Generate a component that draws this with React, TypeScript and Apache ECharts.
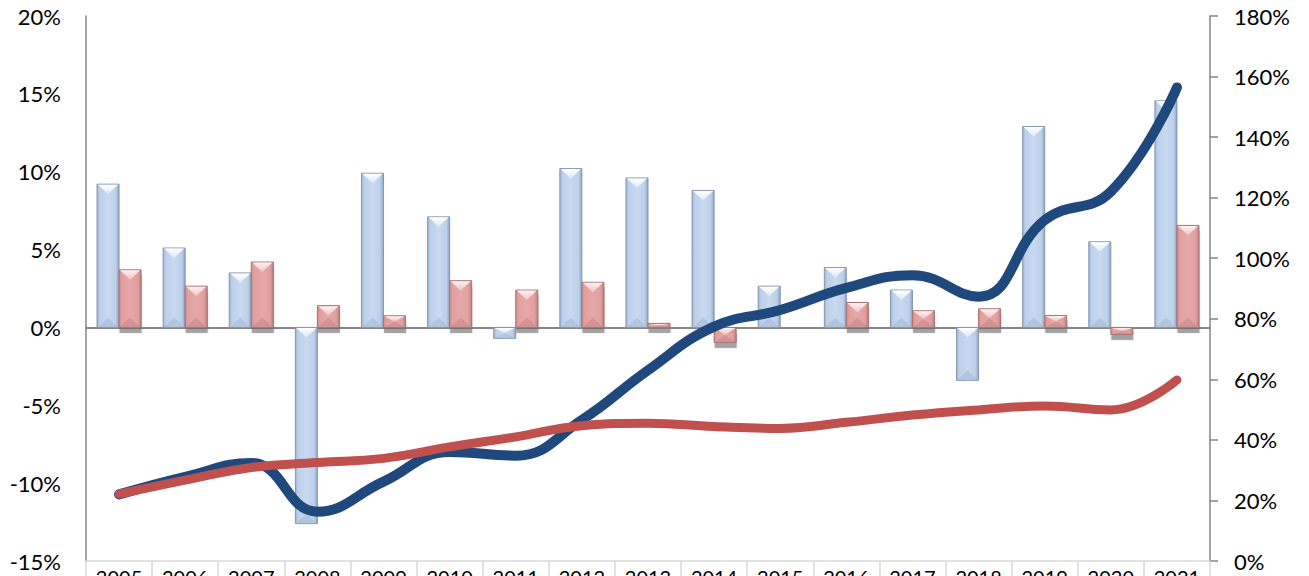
import React, { useEffect, useRef } from "react";
import * as echarts from "echarts";

const years = ["2005","2006","2007","2008","2009","2010","2011","2012","2013","2014","2015","2016","2017","2018","2019","2020","2021"];
const blueBars = [9.2, 5.1, 3.5, -12.6, 9.9, 7.1, -0.7, 10.2, 9.6, 8.8, 2.65, 3.85, 2.4, -3.4, 12.9, 5.5, 14.55];
const redBars = [3.7, 2.65, 4.2, 1.4, 0.75, 3.0, 2.4, 2.9, 0.26, -0.96, 0, 1.6, 1.07, 1.2, 0.77, -0.45, 6.55];
const blueLine = [22.0, 27.8, 32.4, 16.3, 26.2, 36.0, 34.8, 46.6, 63.0, 77.4, 82.9, 90.2, 94.4, 87.3, 112.6, 122.0, 156.4];
const redLine = [22.1, 26.7, 30.9, 32.5, 33.9, 37.7, 41.0, 44.7, 45.5, 44.4, 43.8, 45.8, 48.2, 49.9, 51.2, 49.9, 59.8];
const leftTicks = { min: -15, max: 20, interval: 5 };
const rightTicks = { min: 0, max: 180, interval: 20 };

const FONT = "Lato, 'Open Sans', sans-serif";

function makeBarRender(side: "left" | "right", pal: any) {
  return (params: any, api: any) => {
    const i = api.value(0);
    const v = api.value(1);
    if (v === 0 || v == null || isNaN(v)) return { type: "group", children: [] };
    const base = api.coord([i, 0]);
    const tip = api.coord([i, v]);
    const band = api.size([1, 0])[0];
    const w = band / 3;
    const x0 = side === "left" ? base[0] - w : base[0];
    const yTop = Math.min(base[1], tip[1]);
    const yBot = Math.max(base[1], tip[1]);
    const h = Math.max(yBot - yTop, 1);
    const d = Math.min(w * 0.45, h / 2);
    const children: any[] = [];
    if (pal.shadow) {
      children.push({
        type: "rect",
        shape: { x: x0 + 0.5, y: yTop + 5.5, width: w, height: h },
        style: { fill: "rgba(110,110,110,0.55)", shadowBlur: 2, shadowColor: "rgba(0,0,0,0.3)" },
      });
    }
    children.push({
      type: "rect",
      shape: { x: x0, y: yTop, width: w, height: h },
      style: {
        fill: {
          type: "linear", x: 0, y: 0, x2: 1, y2: 0,
          colorStops: [
            { offset: 0, color: pal.edge },
            { offset: 0.12, color: pal.mid },
            { offset: 0.5, color: pal.center },
            { offset: 0.85, color: pal.mid },
            { offset: 1, color: pal.edgeR },
          ],
        },
        stroke: pal.stroke,
        lineWidth: 1,
      },
    });
    children.push({
      type: "polygon",
      shape: { points: [[x0 + 1, yTop + 0.5], [x0 + w - 1, yTop + 0.5], [x0 + w / 2, yTop + d]] },
      style: {
        fill: {
          type: "linear", x: 0, y: 0, x2: 0, y2: 1,
          colorStops: [
            { offset: 0, color: pal.topLight },
            { offset: 1, color: pal.topDark },
          ],
        },
      },
    });
    children.push({
      type: "polygon",
      shape: { points: [[x0 + 1, yBot - 0.5], [x0 + w - 1, yBot - 0.5], [x0 + w / 2, yBot - d]] },
      style: { fill: pal.bottom, opacity: 0.7 },
    });
    return { type: "group", children };
  };
}

const bluePal = {
  edge: "#9db3d0", mid: "#bcd0ea", center: "#c8daf1", edgeR: "#8ea4c1",
  stroke: "#8797ad", topLight: "#ffffff", topDark: "#dde9f7", bottom: "#a9bdd8", shadow: false,
};
const redPal = {
  edge: "#c98d8d", mid: "#e0a0a0", center: "#e8a8a8", edgeR: "#b98080",
  stroke: "#a87474", topLight: "#fff0f0", topDark: "#f0c4c4", bottom: "#cc8c8c", shadow: true,
};

export default function App() {
  const ref = useRef<HTMLDivElement>(null);
  useEffect(() => {
    if (!ref.current) return;
    const chart = echarts.init(ref.current, null, { renderer: "svg" });
    const blueData = blueBars.map((v, i) => [i, v]);
    const redData = redBars.map((v, i) => [i, v]);
    chart.setOption({
      animation: false,
      backgroundColor: "#ffffff",
      grid: { left: 86, right: 99, top: 16, bottom: 15, containLabel: false, outerBoundsMode: "none" },
      xAxis: [
        {
          type: "category",
          data: years,
          position: "bottom",
          boundaryGap: true,
          axisLine: { onZero: false, lineStyle: { color: "#d9d9d9", width: 1.5 } },
          axisTick: { show: true, length: 20, interval: 0, lineStyle: { color: "#d9d9d9", width: 1.5 } },
          axisLabel: { interval: 0, color: "#000", fontSize: 20, fontFamily: FONT, margin: 6 },
          splitLine: { show: false },
        },
        {
          type: "category",
          data: years,
          position: "bottom",
          boundaryGap: true,
          axisLine: { show: true, onZero: true, onZeroAxisIndex: 0, lineStyle: { color: "#868686", width: 2 } },
          axisTick: { show: false },
          axisLabel: { show: false },
          splitLine: { show: false },
        },
      ],
      yAxis: [
        {
          type: "value",
          min: leftTicks.min,
          max: leftTicks.max,
          interval: leftTicks.interval,
          position: "left",
          axisLine: { show: true, lineStyle: { color: "#868686", width: 1.5 } },
          axisTick: { show: false },
          splitLine: { show: false },
          axisLabel: { formatter: "{value}%", color: "#000", fontSize: 22, fontFamily: FONT, margin: 25 },
        },
        {
          type: "value",
          min: rightTicks.min,
          max: rightTicks.max,
          interval: rightTicks.interval,
          position: "right",
          axisLine: { show: true, lineStyle: { color: "#868686", width: 1.5 } },
          axisTick: { show: true, inside: false, length: 8, lineStyle: { color: "#868686", width: 1.5 } },
          splitLine: { show: false },
          axisLabel: { formatter: "{value}%", color: "#000", fontSize: 22, fontFamily: FONT, margin: 24 },
        },
      ],
      series: [
        {
          type: "custom",
          name: "blue bars",
          xAxisIndex: 0,
          yAxisIndex: 0,
          data: blueData,
          encode: { x: 0, y: 1 },
          renderItem: makeBarRender("left", bluePal),
          z: 2,
        },
        {
          type: "custom",
          name: "red bars",
          xAxisIndex: 0,
          yAxisIndex: 0,
          data: redData,
          encode: { x: 0, y: 1 },
          renderItem: makeBarRender("right", redPal),
          z: 2,
        },
        {
          type: "line",
          name: "blue line",
          xAxisIndex: 0,
          yAxisIndex: 1,
          data: blueLine,
          smooth: 0.45,
          symbol: "none",
          lineStyle: { color: "#1f497d", width: 10, cap: "round", join: "round" },
          z: 3,
        },
        {
          type: "line",
          name: "red line",
          xAxisIndex: 0,
          yAxisIndex: 1,
          data: redLine,
          smooth: 0.45,
          symbol: "none",
          lineStyle: { color: "#c0504d", width: 9, cap: "round", join: "round" },
          z: 4,
        },
      ],
    });
    return () => chart.dispose();
  }, []);
  return <div ref={ref} style={{ width: 1309, height: 576, position: "absolute", left: 0, top: 0 }} />;
}
